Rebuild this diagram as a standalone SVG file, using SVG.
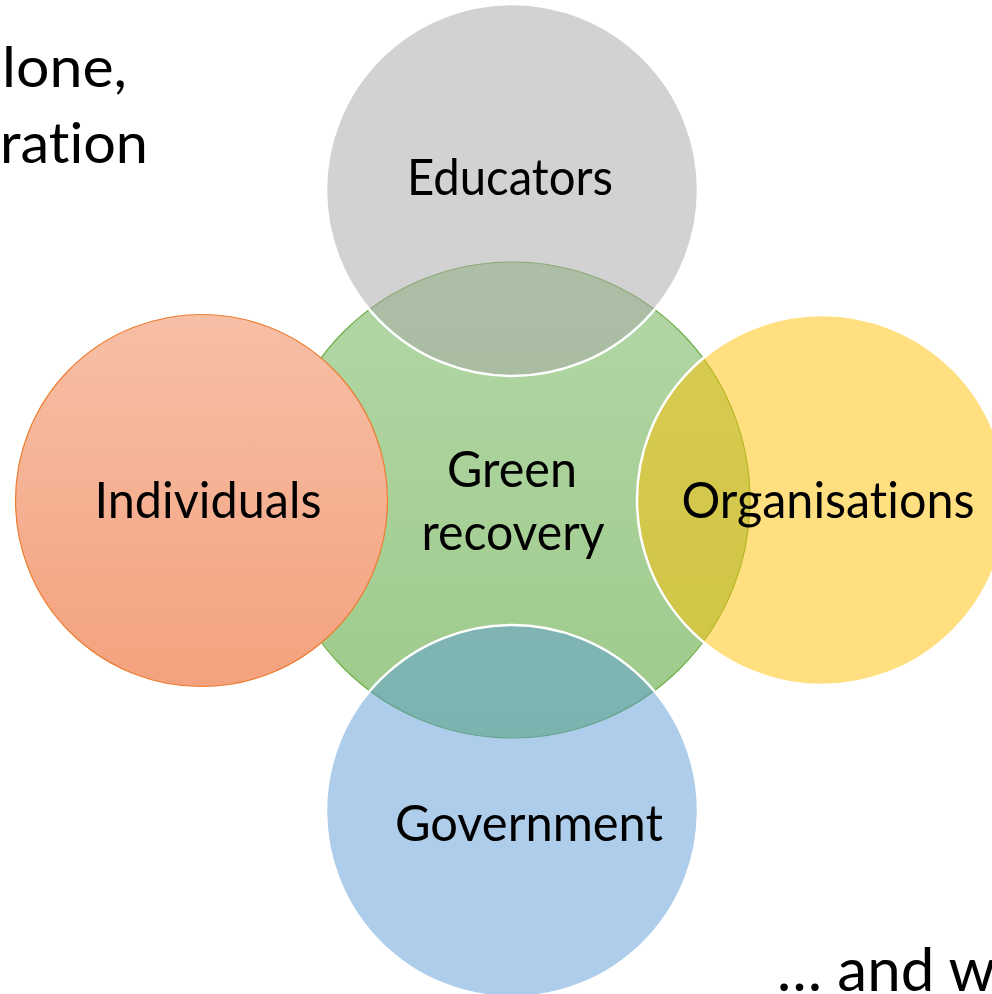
<svg xmlns="http://www.w3.org/2000/svg" width="992" height="994" viewBox="0 0 992 994">
<style>
text{font-family:Lato,"Open Sans","Liberation Sans",sans-serif;font-size:50px;fill:#000;font-variant-ligatures:none;font-feature-settings:"liga" 0}
.side{font-size:56px}
.ov{stroke:#fff;stroke-width:2.5}
</style>
<defs>
<linearGradient id="gGreen" x1="0" y1="0" x2="0" y2="1">
<stop offset="0" stop-color="#b3d7a7"/>
<stop offset="1" stop-color="#9dca89"/>
</linearGradient>
<linearGradient id="gOrange" x1="0" y1="0" x2="0" y2="1">
<stop offset="0" stop-color="#f7bfa6"/>
<stop offset="1" stop-color="#f4a27e"/>
</linearGradient>
</defs>
<rect width="992" height="994" fill="#fff"/>
<g id="side-text">
<text class="side" x="2" y="87" textLength="125" lengthAdjust="spacingAndGlyphs">lone,</text>
<text class="side" x="0" y="163" textLength="148" lengthAdjust="spacingAndGlyphs">ration</text>
<text class="side" x="777" y="991" style="font-size:60px">… and w</text>
</g>
<g id="green-recovery">
<circle cx="512" cy="500" r="238" fill="url(#gGreen)" stroke="#70AD47" stroke-width="1.2"/>
<text x="512" y="487" text-anchor="middle" textLength="130" lengthAdjust="spacingAndGlyphs">Green</text>
<text x="513" y="550" text-anchor="middle" textLength="183" lengthAdjust="spacingAndGlyphs">recovery</text>
</g>
<g id="educators">
<circle class="ov" cx="512" cy="190" r="186" fill="#A5A5A5" fill-opacity="0.5"/>
<text x="510" y="195" text-anchor="middle" textLength="206" lengthAdjust="spacingAndGlyphs">Educators</text>
</g>
<g id="organisations">
<circle class="ov" cx="822" cy="500" r="185" fill="#FFC000" fill-opacity="0.5"/>
<text x="828" y="518" text-anchor="middle" textLength="293" lengthAdjust="spacingAndGlyphs">Organisations</text>
</g>
<g id="government">
<circle class="ov" cx="512" cy="811" r="186" fill="#5B9BD5" fill-opacity="0.5"/>
<text x="529" y="841" text-anchor="middle" textLength="268" lengthAdjust="spacingAndGlyphs">Government</text>
</g>
<g id="individuals">
<circle cx="201.5" cy="500.5" r="186" fill="url(#gOrange)" stroke="#ED7D31" stroke-width="1.2"/>
<text x="208" y="518" text-anchor="middle" textLength="227" lengthAdjust="spacingAndGlyphs">Individuals</text>
</g>
<g id="connectors"/>
</svg>
